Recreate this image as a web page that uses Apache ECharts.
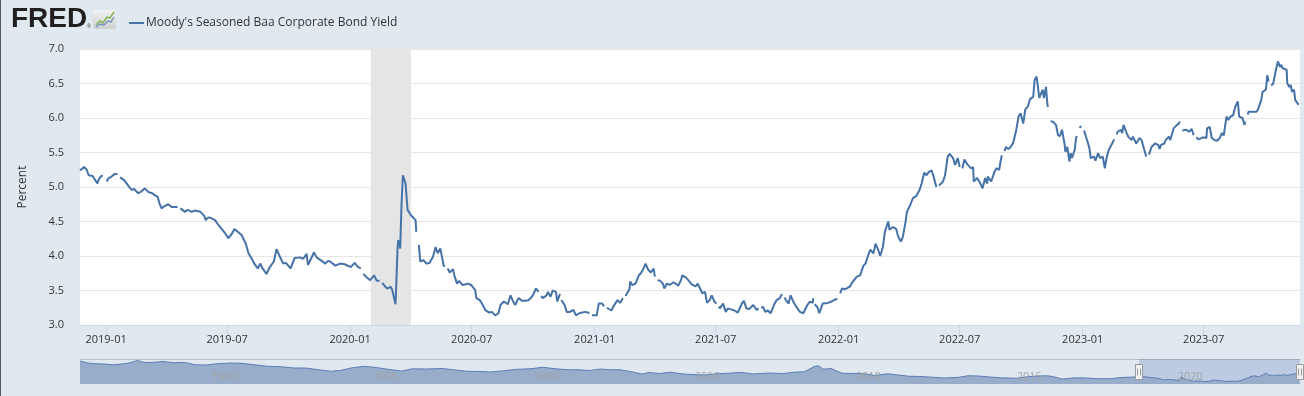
<!DOCTYPE html>
<html><head><meta charset="utf-8">
<script src="https://cdn.jsdelivr.net/npm/echarts@6/dist/echarts.min.js"></script>
<style>html,body{margin:0;padding:0;background:#e1e9f0;}#c{width:1304px;height:396px;}</style>
</head><body><div id="c"></div>
<script>
const seriesName = "Moody's Seasoned Baa Corporate Bond Yield";
const tickLabels = ['2019-01','2019-07','2020-01','2020-07','2021-01','2021-07','2022-01','2022-07','2023-01','2023-07'];
const navTickYears = ['1990','1995','2000','2005','2010','2015','2020'];
const viewRange = ['2018-11-23','2023-11-22'];
const navRange = ['1986-01-02','2023-11-22'];
const recession = ['2020-02-01','2020-04-01'];

const baa2018 = [
['2018-11-23',5.24],['2018-11-29',5.29],['2018-12-03',5.25],['2018-12-06',5.17],['2018-12-12',5.16],['2018-12-19',5.05],['2018-12-21',5.11],['2018-12-24',5.15],['2018-12-27',5.17],['2018-12-31',null]
];
const baa2019 = [
['2019-01-02',5.08],['2019-01-04',5.12],['2019-01-09',5.15],['2019-01-14',5.19],['2019-01-18',5.19],['2019-01-21',null],
['2019-01-22',5.14],['2019-01-28',5.10],['2019-02-01',5.05],['2019-02-04',5.01],['2019-02-08',4.96],['2019-02-12',4.97],['2019-02-18',4.91],['2019-02-22',4.93],['2019-02-28',4.98],['2019-03-05',4.93],['2019-03-11',4.91],['2019-03-15',4.88],['2019-03-19',4.86],['2019-03-22',4.76],['2019-03-25',4.69],['2019-03-29',4.72],['2019-04-04',4.75],['2019-04-09',4.71],['2019-04-18',4.71],['2019-04-19',null],
['2019-04-22',4.69],['2019-04-29',4.64],['2019-05-03',4.67],['2019-05-09',4.64],['2019-05-14',4.66],['2019-05-22',4.64],['2019-05-28',4.58],['2019-05-30',4.52],['2019-06-03',4.56],['2019-06-07',4.55],['2019-06-13',4.52],['2019-06-18',4.45],['2019-06-24',4.38],['2019-06-28',4.33],['2019-07-03',4.26],['2019-07-08',4.32],['2019-07-12',4.39],['2019-07-17',4.35],['2019-07-23',4.30],['2019-07-29',4.18],['2019-08-02',4.04],['2019-08-07',3.96],['2019-08-12',3.87],['2019-08-16',3.82],['2019-08-20',3.89],['2019-08-23',3.82],['2019-08-29',3.74],['2019-09-03',3.84],['2019-09-09',3.92],['2019-09-13',4.10],['2019-09-18',3.99],['2019-09-23',3.89],['2019-09-27',3.90],['2019-10-04',3.82],['2019-10-10',3.97],['2019-10-18',3.98],['2019-10-23',3.96],['2019-10-28',4.03],['2019-10-30',3.87],['2019-11-05',3.99],['2019-11-08',4.05],['2019-11-12',3.98],['2019-11-18',3.94],['2019-11-25',3.89],['2019-11-29',3.93],['2019-12-02',3.92],['2019-12-10',3.86],['2019-12-17',3.89],['2019-12-24',3.88]
];
const baa2020 = [
['2020-01-02',3.84],['2020-01-08',3.90],['2020-01-13',3.84],['2020-01-17',3.82],['2020-01-20',null],
['2020-01-21',3.74],['2020-01-22',3.72],['2020-01-27',3.68],['2020-01-31',3.65],['2020-02-06',3.72],['2020-02-10',3.64],['2020-02-14',3.64],['2020-02-17',null],
['2020-02-18',3.61],['2020-02-20',3.59],['2020-02-25',3.53],['2020-03-02',3.55],['2020-03-04',3.51],['2020-03-09',3.30],['2020-03-10',3.55],['2020-03-12',4.11],['2020-03-13',4.23],['2020-03-16',4.11],['2020-03-18',4.76],['2020-03-20',5.17],['2020-03-24',5.05],['2020-03-27',4.67],['2020-04-01',4.59],['2020-04-03',4.57],['2020-04-08',4.52],['2020-04-09',4.35],['2020-04-10',null],
['2020-04-13',4.16],['2020-04-15',3.92],['2020-04-20',3.94],['2020-04-24',3.89],['2020-04-29',3.90],['2020-05-04',3.99],['2020-05-08',4.13],['2020-05-11',4.04],['2020-05-15',4.11],['2020-05-20',3.86],['2020-05-22',3.85],['2020-05-25',null],
['2020-05-26',3.82],['2020-05-29',3.76],['2020-06-03',3.81],['2020-06-05',3.72],['2020-06-09',3.60],['2020-06-12',3.64],['2020-06-17',3.58],['2020-06-22',3.59],['2020-06-25',3.60],['2020-06-30',3.58],['2020-07-06',3.51],['2020-07-08',3.39],['2020-07-13',3.36],['2020-07-17',3.30],['2020-07-21',3.22],['2020-07-27',3.18],['2020-07-31',3.19],['2020-08-05',3.14],['2020-08-10',3.17],['2020-08-13',3.29],['2020-08-18',3.34],['2020-08-24',3.30],['2020-08-28',3.43],['2020-09-01',3.34],['2020-09-04',3.29],['2020-09-09',3.39],['2020-09-14',3.35],['2020-09-18',3.35],['2020-09-24',3.36],['2020-09-29',3.41],['2020-10-02',3.46],['2020-10-05',3.53],['2020-10-09',3.48],['2020-10-12',null],
['2020-10-13',3.42],['2020-10-15',3.39],['2020-10-21',3.43],['2020-10-23',3.48],['2020-10-27',3.41],['2020-10-30',3.50],['2020-11-04',3.48],['2020-11-06',3.34],['2020-11-10',3.45],['2020-11-11',null],
['2020-11-12',3.36],['2020-11-13',3.34],['2020-11-17',3.29],['2020-11-20',3.19],['2020-11-25',3.19],['2020-11-30',3.22],['2020-12-04',3.14],['2020-12-09',3.17],['2020-12-11',3.17],['2020-12-17',3.19],['2020-12-22',3.18],['2020-12-24',3.17],['2020-12-25',null],
['2020-12-28',3.14],['2020-12-30',3.13]
];
const baa2021 = [
['2021-01-04',3.14],['2021-01-07',3.31],['2021-01-12',3.31],['2021-01-15',3.27],['2021-01-18',null],
['2021-01-19',3.25],['2021-01-21',3.23],['2021-01-26',3.21],['2021-01-29',3.27],['2021-02-04',3.36],['2021-02-08',3.32],['2021-02-12',3.39],['2021-02-15',null],
['2021-02-16',3.42],['2021-02-17',3.43],['2021-02-22',3.52],['2021-02-23',3.63],['2021-02-26',3.58],['2021-03-03',3.60],['2021-03-08',3.72],['2021-03-11',3.75],['2021-03-15',3.82],['2021-03-18',3.89],['2021-03-22',3.80],['2021-03-26',3.76],['2021-03-30',3.82],['2021-04-01',3.70],['2021-04-02',null],
['2021-04-05',3.65],['2021-04-06',3.63],['2021-04-09',3.64],['2021-04-13',3.60],['2021-04-15',3.53],['2021-04-19',3.60],['2021-04-23',3.58],['2021-04-29',3.62],['2021-05-06',3.57],['2021-05-10',3.65],['2021-05-12',3.72],['2021-05-17',3.69],['2021-05-21',3.65],['2021-05-26',3.59],['2021-06-01',3.56],['2021-06-04',3.60],['2021-06-09',3.50],['2021-06-11',3.46],['2021-06-15',3.48],['2021-06-18',3.32],['2021-06-22',3.36],['2021-06-25',3.43],['2021-06-29',3.34],['2021-07-02',3.31],['2021-07-05',null],
['2021-07-06',3.27],['2021-07-07',3.24],['2021-07-12',3.31],['2021-07-16',3.19],['2021-07-19',3.24],['2021-07-23',3.23],['2021-07-29',3.21],['2021-08-03',3.18],['2021-08-09',3.31],['2021-08-12',3.35],['2021-08-16',3.24],['2021-08-20',3.23],['2021-08-26',3.29],['2021-08-31',3.22],['2021-09-03',3.24],['2021-09-06',null],
['2021-09-07',3.25],['2021-09-10',3.26],['2021-09-13',3.19],['2021-09-17',3.21],['2021-09-21',3.17],['2021-09-27',3.31],['2021-09-30',3.36],['2021-10-05',3.39],['2021-10-08',3.45],['2021-10-11',null],
['2021-10-12',3.40],['2021-10-14',3.36],['2021-10-18',3.31],['2021-10-21',3.43],['2021-10-25',3.34],['2021-10-29',3.27],['2021-11-04',3.19],['2021-11-09',3.17],['2021-11-15',3.29],['2021-11-19',3.34],['2021-11-23',3.32],['2021-11-24',3.39],['2021-11-25',null],
['2021-11-26',3.30],['2021-11-30',3.26],['2021-12-03',3.17],['2021-12-08',3.31],['2021-12-10',3.29],['2021-12-16',3.32],['2021-12-21',3.34],['2021-12-27',3.37],['2021-12-30',3.38],['2021-12-31',null]
];
const baa2022 = [
['2022-01-03',3.46],['2022-01-06',3.53],['2022-01-11',3.52],['2022-01-18',3.56],['2022-01-20',3.60],['2022-01-24',3.65],['2022-01-28',3.70],['2022-02-02',3.72],['2022-02-07',3.86],['2022-02-10',3.89],['2022-02-14',4.01],['2022-02-17',4.09],['2022-02-22',4.04],['2022-02-25',4.18],['2022-03-01',4.09],['2022-03-04',4.00],['2022-03-08',4.13],['2022-03-11',4.35],['2022-03-16',4.50],['2022-03-18',4.38],['2022-03-23',4.42],['2022-03-28',4.39],['2022-03-31',4.28],['2022-04-04',4.21],['2022-04-07',4.28],['2022-04-11',4.50],['2022-04-13',4.64],['2022-04-18',4.74],['2022-04-20',4.79],['2022-04-22',4.84],['2022-04-27',4.87],['2022-05-02',4.96],['2022-05-05',5.05],['2022-05-09',5.21],['2022-05-12',5.17],['2022-05-16',5.22],['2022-05-20',5.24],['2022-05-23',5.15],['2022-05-27',5.00],['2022-05-30',null],
['2022-05-31',5.02],['2022-06-01',5.03],['2022-06-06',5.08],['2022-06-09',5.17],['2022-06-13',5.44],['2022-06-16',5.48],['2022-06-21',5.42],['2022-06-24',5.32],['2022-06-28',5.42],['2022-07-01',5.29],['2022-07-04',null],
['2022-07-05',5.27],['2022-07-06',5.25],['2022-07-08',5.40],['2022-07-13',5.32],['2022-07-18',5.27],['2022-07-21',5.29],['2022-07-22',5.08],['2022-07-27',5.13],['2022-08-01',5.05],['2022-08-04',4.98],['2022-08-08',5.13],['2022-08-11',5.05],['2022-08-12',5.15],['2022-08-17',5.08],['2022-08-22',5.22],['2022-08-25',5.27],['2022-08-29',5.25],['2022-08-31',5.37],['2022-09-02',5.46],['2022-09-05',null],
['2022-09-06',5.52],['2022-09-08',5.58],['2022-09-12',5.55],['2022-09-15',5.58],['2022-09-19',5.64],['2022-09-21',5.66],['2022-09-23',5.80],['2022-09-27',6.02],['2022-09-30',6.07],['2022-10-04',5.92],['2022-10-07',6.12],['2022-10-11',6.17],['2022-10-14',6.27],['2022-10-19',6.31],['2022-10-21',6.55],['2022-10-24',6.60],['2022-10-26',6.60],['2022-10-28',6.29],['2022-11-02',6.41],['2022-11-04',6.29],['2022-11-07',6.45],['2022-11-08',6.43],['2022-11-09',6.21],['2022-11-10',6.16],['2022-11-11',null],
['2022-11-14',5.95],['2022-11-17',5.95],['2022-11-22',5.90],['2022-11-25',5.75],['2022-11-28',5.74],['2022-12-01',5.83],['2022-12-05',5.61],['2022-12-06',5.51],['2022-12-09',5.58],['2022-12-12',5.37],['2022-12-14',5.49],['2022-12-16',5.42],['2022-12-20',5.54],['2022-12-22',5.71],['2022-12-23',5.74],['2022-12-26',null],
['2022-12-27',5.86],['2022-12-30',5.88],['2023-01-02',null]
];
const baa2023 = [
['2023-01-03',5.82],['2023-01-04',5.80],['2023-01-09',5.63],['2023-01-11',5.56],['2023-01-13',5.42],['2023-01-18',5.44],['2023-01-20',5.38],['2023-01-24',5.49],['2023-01-27',5.42],['2023-01-31',5.44],['2023-02-03',5.27],['2023-02-06',5.44],['2023-02-09',5.54],['2023-02-14',5.63],['2023-02-17',5.69],['2023-02-20',null],
['2023-02-21',5.76],['2023-02-22',5.80],['2023-02-27',5.83],['2023-03-01',5.78],['2023-03-03',5.90],['2023-03-07',5.80],['2023-03-10',5.73],['2023-03-15',5.68],['2023-03-17',5.73],['2023-03-22',5.63],['2023-03-27',5.71],['2023-03-30',5.68],['2023-04-03',5.54],['2023-04-06',5.44],['2023-04-07',null],
['2023-04-10',5.47],['2023-04-11',5.49],['2023-04-14',5.58],['2023-04-19',5.63],['2023-04-24',5.61],['2023-04-26',5.55],['2023-04-28',5.61],['2023-05-03',5.63],['2023-05-05',5.68],['2023-05-10',5.73],['2023-05-12',5.68],['2023-05-17',5.85],['2023-05-22',5.90],['2023-05-25',5.92],['2023-05-26',5.95],['2023-05-29',null],
['2023-05-30',5.82],['2023-06-01',5.80],['2023-06-05',5.83],['2023-06-09',5.80],['2023-06-13',5.84],['2023-06-16',5.75],['2023-06-19',null],
['2023-06-20',5.72],['2023-06-21',5.71],['2023-06-23',5.69],['2023-06-30',5.72],['2023-07-05',5.71],['2023-07-06',5.85],['2023-07-10',5.87],['2023-07-13',5.71],['2023-07-17',5.68],['2023-07-21',5.67],['2023-07-25',5.71],['2023-07-28',5.78],['2023-07-31',5.75],['2023-08-04',6.02],['2023-08-07',5.97],['2023-08-10',6.02],['2023-08-14',6.04],['2023-08-17',6.16],['2023-08-21',6.24],['2023-08-23',6.02],['2023-08-28',6.00],['2023-08-31',5.90],['2023-09-01',5.95],['2023-09-04',null],
['2023-09-05',6.05],['2023-09-06',6.09],['2023-09-08',6.07],['2023-09-13',6.09],['2023-09-18',6.09],['2023-09-20',6.12],['2023-09-25',6.26],['2023-09-27',6.38],['2023-10-02',6.41],['2023-10-04',6.62],['2023-10-05',6.60],['2023-10-06',6.53],['2023-10-09',null],
['2023-10-10',6.47],['2023-10-11',6.45],['2023-10-13',6.50],['2023-10-17',6.70],['2023-10-20',6.82],['2023-10-23',6.74],['2023-10-25',6.77],['2023-10-27',6.72],['2023-11-02',6.70],['2023-11-03',6.50],['2023-11-06',6.45],['2023-11-08',6.48],['2023-11-10',6.38],['2023-11-13',6.41],['2023-11-15',6.26],['2023-11-20',6.19]
];
// long history shown in the navigator (before the viewed window)
const navHistory = [
['1986-01-02',11.4],['1986-04-01',10.6],['1986-07-01',10.3],['1986-10-01',10.2],['1987-01-02',9.9],['1987-04-01',10.1],['1987-07-01',10.5],['1987-10-16',11.6],['1988-01-04',10.8],['1988-05-02',10.9],['1988-08-01',11.2],['1988-12-01',10.7],['1989-04-03',10.8],['1989-08-01',9.9],['1989-12-01',9.8],['1990-04-02',10.3],['1990-09-04',10.6],['1991-01-02',10.5],['1991-06-03',9.9],['1991-11-01',9.3],['1992-04-01',9.1],['1992-09-01',8.6],['1993-01-04',8.6],['1993-06-01',7.9],['1993-10-15',7.3],['1994-02-01',7.6],['1994-06-01',8.6],['1994-11-01',9.3],['1995-04-03',8.7],['1995-09-01',7.9],['1995-12-29',7.4],['1996-05-01',8.3],['1996-10-01',8.2],['1997-04-01',8.4],['1997-09-02',7.8],['1998-01-02',7.3],['1998-06-01',7.2],['1998-10-05',7.0],['1999-03-01',7.5],['1999-08-02',8.1],['2000-01-03',8.3],['2000-05-19',8.9],['2000-10-02',8.3],['2001-03-01',7.9],['2001-07-02',7.9],['2001-11-01',7.6],['2002-03-01',8.2],['2002-07-01',7.9],['2002-10-10',7.9],['2003-03-03',7.0],['2003-06-13',6.2],['2003-09-02',6.8],['2004-01-02',6.4],['2004-05-03',6.9],['2004-10-01',6.2],['2005-03-01',5.9],['2005-06-01',5.8],['2005-11-01',6.3],['2006-04-03',6.6],['2006-07-03',6.9],['2006-12-01',6.2],['2007-06-01',6.6],['2007-11-01',6.4],['2008-03-03',6.9],['2008-07-01',7.1],['2008-10-20',9.2],['2008-12-05',9.5],['2009-02-02',8.1],['2009-05-01',8.4],['2009-09-01',6.5],['2010-01-04',6.4],['2010-05-03',6.3],['2010-09-01',5.6],['2011-02-01',6.3],['2011-06-01',5.8],['2011-10-03',5.3],['2012-02-01',5.2],['2012-07-02',4.9],['2012-11-01',4.6],['2013-04-01',4.8],['2013-08-01',5.5],['2013-12-02',5.4],['2014-04-01',5.0],['2014-08-01',4.7],['2015-01-30',4.5],['2015-06-01',5.1],['2015-10-01',5.4],['2016-01-04',5.5],['2016-03-01',5.3],['2016-07-05',4.2],['2016-12-01',4.7],['2017-04-03',4.6],['2017-09-01',4.3],['2018-01-02',4.3],['2018-05-01',4.8],['2018-10-01',5.0]
];

function ts(s){ const a = s.split('-'); return new Date(+a[0], +a[1]-1, a[2] ? +a[2] : 1).getTime(); }
function pad(n){ return (n < 10 ? '0' : '') + n; }

const mainRaw = [].concat(baa2018, baa2019, baa2020, baa2021, baa2022, baa2023);
const mainData = mainRaw.map(p => [ts(p[0]), p[1] === null ? '-' : p[1]]);
const navData = navHistory.concat(mainRaw.filter(p => p[1] !== null)).map(p => [ts(p[0]), p[1]]);
const tickValues = tickLabels.map(ts);
const navTickValues = navTickYears.map(y => ts(y + '-01-01'));

const FONT = '"Open Sans", "Noto Sans", sans-serif';
const chart = echarts.init(document.getElementById('c'), null, {renderer: 'canvas'});
chart.setOption({
  animation: false,
  backgroundColor: '#e1e9f0',
  textStyle: {fontFamily: FONT},
  legend: {
    left: 124, top: 12, icon: 'rect', itemWidth: 15, itemHeight: 2, itemGap: 10,
    data: [seriesName],
    textStyle: {fontSize: 12, color: '#333', fontFamily: FONT, padding: [0, 0, 0, -3]},
    selectedMode: false
  },
  graphic: [
    {type: 'rect', left: 0, top: 0, shape: {width: 1, height: 396}, style: {fill: '#5a5a5a'}, silent: true},
    {type: 'text', left: 11, top: 5, style: {text: 'FRED', font: '900 28px "Liberation Sans", Arial, sans-serif', fill: '#231f20'}, silent: true},
    {type: 'text', left: 87, top: 24, style: {text: '\u00AE', font: '5px "Liberation Sans", sans-serif', fill: '#231f20'}, silent: true},
    {type: 'rect', left: 93, top: 10, shape: {width: 23, height: 19, r: 2},
      style: {fill: new echarts.graphic.LinearGradient(0, 0, 0, 1, [{offset: 0, color: '#f2f2f2'}, {offset: 1, color: '#cfcfcf'}])}, silent: true},
    {type: 'polyline', shape: {points: [[96, 25], [100, 21], [103, 23], [107, 17], [110, 18], [114, 12]]}, style: {stroke: '#7fb24e', lineWidth: 1.4, fill: null}, silent: true},
    {type: 'polyline', shape: {points: [[96, 27], [100, 24], [104, 25], [108, 21], [111, 22], [114, 17]]}, style: {stroke: '#6f93c5', lineWidth: 1.4, fill: null}, silent: true}
  ],
  grid: [
    {left: 80, right: 4, top: 49, height: 276, show: true, backgroundColor: '#ffffff', borderWidth: 0},
    {left: 80, right: 4, top: 359, height: 25}
  ],
  xAxis: [
    {
      type: 'value', gridIndex: 0, min: ts(viewRange[0]), max: ts(viewRange[1]),
      axisLine: {show: true, lineStyle: {color: '#ccd6eb', width: 1}},
      axisTick: {show: true, customValues: tickValues, length: 10, lineStyle: {color: '#ccd6eb'}},
      axisLabel: {
        customValues: tickValues, margin: 9, fontSize: 11, color: '#333', fontFamily: FONT,
        formatter: function (v) { const d = new Date(v); return d.getFullYear() + '-' + pad(d.getMonth() + 1); }
      },
      splitLine: {show: false}
    },
    {
      type: 'value', gridIndex: 1, min: ts(navRange[0]), max: ts(navRange[1]), z: 10,
      axisLine: {show: false}, axisTick: {show: false}, splitLine: {show: false},
      axisLabel: {
        inside: true, customValues: navTickValues, margin: 2, fontSize: 11, color: '#a3a3a3',
        align: 'left', padding: [0, 0, 0, 3], fontFamily: FONT,
        formatter: function (v) { return String(new Date(v).getFullYear()); }
      }
    },
    {
      type: 'value', gridIndex: 1, position: 'top', min: 0, max: 1,
      axisLine: {show: true, lineStyle: {color: '#bdbdbd', width: 1}},
      axisTick: {show: false}, axisLabel: {show: false}, splitLine: {show: false}
    }
  ],
  yAxis: [
    {
      type: 'value', gridIndex: 0, min: 3, max: 7, interval: 0.5,
      axisLine: {show: false}, axisTick: {show: false},
      splitLine: {show: true, lineStyle: {color: '#e6e6e6', width: 1}},
      axisLabel: {margin: 16, fontSize: 11, color: '#333', fontFamily: FONT, formatter: v => v.toFixed(1)},
      name: 'Percent', nameLocation: 'middle', nameGap: 51, nameRotate: 90,
      nameTextStyle: {fontSize: 12, color: '#333', fontFamily: FONT}
    },
    {type: 'value', gridIndex: 1, min: 2.2, max: 12.2, show: false}
  ],
  series: [
    {
      name: seriesName, type: 'line', xAxisIndex: 0, yAxisIndex: 0,
      data: mainData, showSymbol: false, connectNulls: false,
      lineStyle: {color: '#4572a7', width: 2}, itemStyle: {color: '#4572a7'},
      emphasis: {disabled: true},
      markArea: {
        silent: true, itemStyle: {color: '#e5e5e5'},
        data: [[{xAxis: ts(recession[0])}, {xAxis: ts(recession[1])}]]
      },
      z: 3
    },
    {
      name: 'navigator', type: 'line', xAxisIndex: 1, yAxisIndex: 1,
      data: navData, showSymbol: false, silent: true,
      lineStyle: {color: '#5b7db5', width: 1},
      areaStyle: {color: '#98adca', opacity: 1},
      markArea: {
        silent: true, itemStyle: {color: 'rgba(102,133,194,0.3)'},
        data: [[{xAxis: ts(viewRange[0])}, {xAxis: ts(viewRange[1])}]]
      }
    },
    {
      name: 'handles', type: 'custom', xAxisIndex: 1, yAxisIndex: 1, silent: true,
      data: viewRange.map(d => [ts(d), 7]),
      encode: {x: 0, y: 1},
      renderItem: function (params, api) {
        const x = Math.round(api.coord([api.value(0), 7])[0]);
        const cs = params.coordSys;
        const cy = Math.round(cs.y + cs.height / 2);
        return {
          type: 'group', children: [
            {type: 'rect', shape: {x: x - 3.5, y: cy - 7.5, width: 7, height: 15}, style: {fill: '#f2f2f2', stroke: '#999', lineWidth: 1}},
            {type: 'line', shape: {x1: x - 1.5, y1: cy - 3.5, x2: x - 1.5, y2: cy + 3.5}, style: {stroke: '#999', lineWidth: 1}},
            {type: 'line', shape: {x1: x + 1.5, y1: cy - 3.5, x2: x + 1.5, y2: cy + 3.5}, style: {stroke: '#999', lineWidth: 1}}
          ]
        };
      },
      z: 5
    }
  ]
});
</script></body></html>
